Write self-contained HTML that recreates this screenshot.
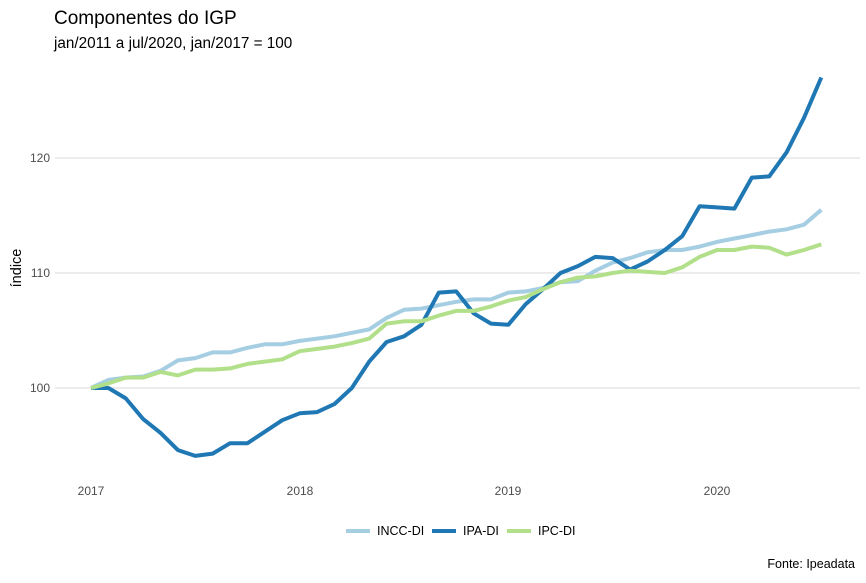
<!DOCTYPE html>
<html><head><meta charset="utf-8"><style>
body{margin:0;background:#fff;font-family:"Liberation Sans",sans-serif}
svg text{font-family:"Liberation Sans",sans-serif}
</style></head><body>
<svg id="s" width="866" height="578" xmlns="http://www.w3.org/2000/svg">
<rect width="866" height="578" fill="#fff"/>
<text x="54" y="24" font-size="19" fill="#000">Componentes do IGP</text>
<text x="54" y="48" font-size="15.3" fill="#000">jan/2011 a jul/2020, jan/2017 = 100</text>
<g stroke="#d9d9d9" stroke-width="1">
<line x1="55" x2="860" y1="158" y2="158"/>
<line x1="55" x2="860" y1="273" y2="273"/>
<line x1="55" x2="860" y1="388" y2="388"/>
</g>
<g font-size="12" fill="#4d4d4d" text-anchor="end">
<text x="50" y="162">120</text><text x="50" y="277">110</text><text x="50" y="392">100</text>
</g>
<g font-size="12" fill="#4d4d4d" text-anchor="middle">
<text x="91" y="495">2017</text><text x="300" y="495">2018</text><text x="508" y="495">2019</text><text x="717" y="495">2020</text>
</g>
<text transform="translate(21,268) rotate(-90)" font-size="14.5" fill="#000" text-anchor="middle">índice</text>
<g id="lines" fill="none" stroke-width="4" stroke-linejoin="round" stroke-linecap="butt"></g>
<g font-size="12.5" fill="#000">
<line x1="346" x2="370" y1="531" y2="531" stroke="#a6cee3" stroke-width="4"/><text x="377" y="535">INCC-DI</text>
<line x1="432" x2="456" y1="531" y2="531" stroke="#1f78b4" stroke-width="4"/><text x="463" y="535">IPA-DI</text>
<line x1="507" x2="531" y1="531" y2="531" stroke="#b2df8a" stroke-width="4"/><text x="538" y="535">IPC-DI</text>
</g>
<text x="855" y="568" font-size="12.5" fill="#000" text-anchor="end">Fonte: Ipeadata</text>
</svg>
<script>
var ipa=[100,100,99.1,97.3,96.1,94.6,94.1,94.3,95.2,95.2,96.2,97.2,97.8,97.9,98.6,100,102.3,104,104.5,105.5,108.3,108.4,106.5,105.6,105.5,107.3,108.6,110,110.6,111.4,111.3,110.3,111.0,112,113.2,115.8,115.7,115.6,118.3,118.4,120.5,123.5,127];
var incc=[100,100.7,100.9,101.0,101.5,102.4,102.6,103.1,103.1,103.5,103.8,103.8,104.1,104.3,104.5,104.8,105.1,106.1,106.8,106.9,107.2,107.5,107.7,107.7,108.3,108.4,108.7,109.2,109.3,110.2,110.9,111.3,111.8,112,112,112.3,112.7,113.0,113.3,113.6,113.8,114.2,115.5];
var ipc=[100,100.4,100.9,100.9,101.4,101.1,101.6,101.6,101.7,102.1,102.3,102.5,103.2,103.4,103.6,103.9,104.3,105.6,105.8,105.8,106.3,106.7,106.7,107.1,107.6,107.9,108.6,109.2,109.6,109.7,110.0,110.2,110.1,110.0,110.5,111.4,112,112,112.3,112.2,111.6,112,112.5];
function p(d){return d.map(function(v,i){return (i?'L':'M')+(91+i*208.67/12).toFixed(1)+','+(388-(v-100)*11.5).toFixed(1)}).join('')}
var g=document.getElementById('lines');
[[incc,'#a6cee3'],[ipa,'#1f78b4'],[ipc,'#b2df8a']].forEach(function(a){
var e=document.createElementNS('http://www.w3.org/2000/svg','path');e.setAttribute('d',p(a[0]));e.setAttribute('stroke',a[1]);g.appendChild(e);});
</script>
</body></html>
